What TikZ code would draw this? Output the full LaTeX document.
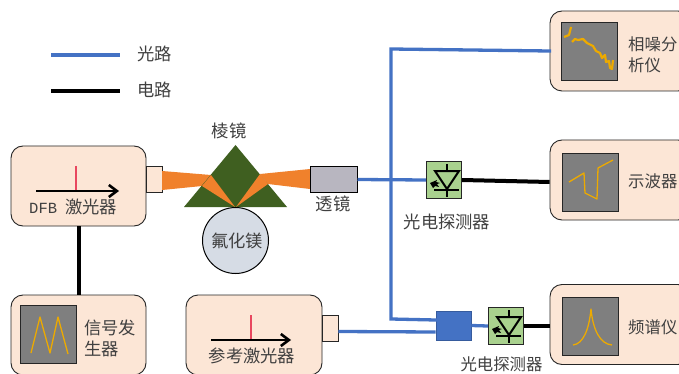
\documentclass[tikz,border=0pt]{standalone}
\usepackage{fontspec}
\setmainfont{Noto Sans CJK SC}[Scale=1]
\newfontfamily\latinmono{Liberation Mono}
\usetikzlibrary{arrows.meta}
\definecolor{peach}{HTML}{FCE6D6}
\definecolor{optblue}{HTML}{4472C4}
\definecolor{txt}{HTML}{404040}
\definecolor{beam}{HTML}{F0812C}
\definecolor{prism}{HTML}{3F5F20}
\definecolor{scr}{HTML}{7F7F7F}
\definecolor{trace}{HTML}{EDAA00}
\definecolor{pdgreen}{HTML}{A9D18E}
\definecolor{mgf}{HTML}{D6DCE5}
\definecolor{lensgray}{HTML}{B8B6C0}
\definecolor{redline}{HTML}{E8475F}
\tikzset{
  devbox/.style={draw=black!85,line width=0.9pt,fill=peach,rounded corners=12pt,inner sep=0pt,minimum width=#1,minimum height=80pt},
  portbox/.style={draw=black!85,line width=0.9pt,fill=peach,inner sep=0pt,minimum width=16pt,minimum height=26pt},
  screenbox/.style={draw=black!85,line width=0.9pt,fill=scr,inner sep=0pt,minimum width=56pt,minimum height=58pt},
  label/.style={text=txt,font=\fontsize{17.3}{21}\selectfont,inner sep=0pt,align=left},
  edgelabel/.style={text=txt,font=\fontsize{16.4}{21}\selectfont,inner sep=0pt,align=left},
  optical/.style={optblue,line width=3.3pt},
  electrical/.style={black,line width=4pt},
  tracepath/.style={trace,line width=1.3pt,line join=round},
  pdbox/.style={draw=black!85,line width=1.4pt,fill=pdgreen,inner sep=0pt,minimum width=35pt,minimum height=37pt},
  pics/photodiode/.style={code={
    \draw[black,line width=2pt] (-9,-9) -- (15,-9) -- (3,9) -- cycle;
    \draw[black,line width=1.5pt] (-10,10) -- (15,10) (3,-16) -- (3,-9) (3,9) -- (3,17);
    \fill[black] (-14,3) -- (-7,0) -- (-8,2) -- (-4,3) -- (-7,4) -- (-5,7) -- (-9,6) -- (-11,8) -- cycle;
  }}
}
\begin{document}
\begin{tikzpicture}[x=1pt,y=-1pt]
\useasboundingbox (0,0) rectangle (679,374);
\clip (0,0) rectangle (679,374);
\fill[white] (0,0) rectangle (679,374);
% legend
\coordinate (lb1) at (51,55); \coordinate (lb2) at (120,55);
\coordinate (lk1) at (51,91); \coordinate (lk2) at (120,91);
\draw[optical,line width=3.5pt] (lb1) -- (lb2);
\draw[electrical] (lk1) -- (lk2);
\node[label,anchor=west] (legO) at (137,54) {光路};
\node[label,anchor=west] (legE) at (137,90) {电路};
% devices
\node[devbox=135pt] (dfb) at (78.5,186) {};
\node[portbox] (dfbport) at (154,179) {};
\node[devbox=135pt] (gen) at (78.5,335) {};
\node[screenbox] (genscr) at (48,334.5) {};
\node[devbox=136pt] (ref) at (254,335) {};
\node[portbox] (refport) at (330,328) {};
\node[devbox=140pt] (pna) at (620,51) {};
\node[screenbox] (pnascr) at (589,51) {};
\node[devbox=140pt] (osc) at (620,180) {};
\node[screenbox] (oscscr) at (590.5,182.5) {};
\node[devbox=140pt] (osa) at (620,324.5) {};
\node[screenbox] (osascr) at (590.5,326.5) {};
% wires
\draw[electrical] (dfb.south -| 79,226) -- (gen.north -| 79,295);
% beams
\fill[beam] (162,171) -- (211,175) -- (202,186) -- (162,190) -- cycle;
\fill[beam] (310,169) -- (260,174) -- (268,184) -- (310,189) -- cycle;
% prism
\fill[prism] (235.5,145) -- (287,207) -- (184,207) -- cycle;
\fill[beam] (211,175) -- (235,207) -- (202,186) -- cycle;
\fill[beam] (260,174) -- (236,207) -- (268,184) -- cycle;
\node[draw=black,line width=1pt,fill=mgf,circle,minimum size=66pt,inner sep=0pt] (mgf) at (235.5,240.5) {};
\node[label] (mgft) at (237,241) {氟化镁};
\node[draw=black,line width=1pt,fill=lensgray,inner sep=0pt,minimum width=47pt,minimum height=25pt] (lens) at (333.5,179.5) {};
% optical paths
\node[pdbox] (pd1) at (444,180) {};
\node[fill=optblue,draw=optblue!80!black,line width=0.8pt,inner sep=0pt,minimum width=35pt,minimum height=29pt] (coupler) at (453.5,325.5) {};
\node[pdbox] (pd2) at (506,326) {};
\coordinate (jt) at (391,49);
\coordinate (jb) at (391,319);
\draw[optical] (lens.east) -- (pd1.west);
\draw[optical,line cap=rect] (pna.west |- 0,51) -- (jt) -- (jb) -- (coupler.west |- 0,320);
\draw[optical] (refport.east |- 0,331.5) -- (coupler.west |- 0,332);
\draw[optical] (coupler.east) -- (pd2.west);
\draw[electrical] (pd1.east) -- (osc.west |- 0,182);
\draw[electrical] (pd2.east) -- (osa.west |- 0,326);
\pic at (pd1) {photodiode};
\pic at (pd2) {photodiode};
% laser marks
\coordinate (da1) at (36,191); \coordinate (da2) at (119,191); \coordinate (dr) at (76,166);
\draw[redline,line width=1.6pt] (dr) -- (dr |- da1);
\draw[black,line width=2.8pt,-{Straight Barb[length=8pt,width=12pt,line width=2.6pt]}] (da1) -- (da2);
\coordinate (ra1) at (211,340); \coordinate (ra2) at (291,340); \coordinate (rr) at (251,315);
\draw[redline,line width=1.6pt] (rr) -- (rr |- ra1);
\draw[black,line width=2.8pt,-{Straight Barb[length=8pt,width=12pt,line width=2.6pt]}] (ra1) -- (ra2);
% traces
\draw[tracepath] (31,353) -- (40,317) -- (50,353) -- (58,317) -- (68,354);
\draw[tracepath,line width=2.2pt] (564,37) -- (569,35) -- (571,27) (572,42) -- (575,39) -- (578,40) -- (583,39) -- (587,43) -- (593,46) -- (596,51) -- (600,53) -- (602,58) -- (605,55) -- (606,62) -- (609,61) -- (610,68) -- (612,69) -- (613,60);
\draw[tracepath] (569,182) -- (584,173) -- (585,193) -- (597,199) -- (598,168) -- (613,160);
\draw[tracepath] (573,345) .. controls (583,344) and (589,330) .. (591,309) .. controls (593,330) and (600,344) .. (612,345);
% labels
\node[label,anchor=west] (dfbt) at (29,207) {{\latinmono\fontsize{15.5}{19}\selectfont DFB}\hspace{8pt}激光器};
\node[label,anchor=west] (gent) at (84,338.5) {信号发\\生器};
\node[label] (reft) at (252,356) {参考激光器};
\node[label] (prismt) at (229,131) {棱镜};
\node[label] (lenst) at (333,204) {透镜};
\node[label] (pd1t) at (447,222) {光电探测器};
\node[edgelabel] (pd2t) at (501.5,364.5) {光电探测器};
\node[edgelabel,anchor=west] (pnat) at (628,54.5) {相噪分\\析仪};
\node[edgelabel,anchor=west] (osct) at (628,181) {示波器};
\node[edgelabel,anchor=west] (osat) at (628,327) {频谱仪};
\end{tikzpicture}
\end{document}
